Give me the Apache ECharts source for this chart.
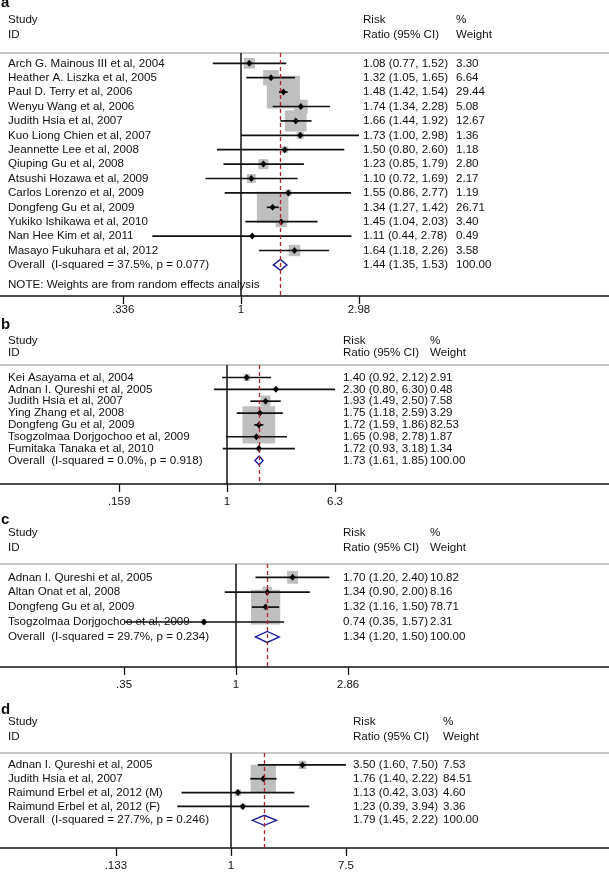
<!DOCTYPE html>
<html><head><meta charset="utf-8">
<script src="https://cdn.jsdelivr.net/npm/echarts@6/dist/echarts.min.js"></script>
<style>html,body{margin:0;padding:0;background:#fff}#c{width:609px;height:872px}</style>
</head><body><div id="c"></div>
<script>
// ---------- Panel a ----------
const aStudies = ["Arch G. Mainous III et al, 2004","Heather A. Liszka et al, 2005","Paul D. Terry et al, 2006","Wenyu Wang et al, 2006","Judith Hsia et al, 2007","Kuo Liong Chien et al, 2007","Jeannette Lee et al, 2008","Qiuping Gu et al, 2008","Atsushi Hozawa et al, 2009","Carlos Lorenzo et al, 2009","Dongfeng Gu et al, 2009","Yukiko Ishikawa et al, 2010","Nan Hee Kim et al, 2011","Masayo Fukuhara et al, 2012"];
const aRR = [1.08,1.32,1.48,1.74,1.66,1.73,1.50,1.23,1.10,1.55,1.34,1.45,1.11,1.64];
const aLo = [0.77,1.05,1.42,1.34,1.44,1.00,0.80,0.85,0.72,0.86,1.27,1.04,0.44,1.18];
const aHi = [1.52,1.65,1.54,2.28,1.92,2.98,2.60,1.79,1.69,2.77,1.42,2.03,2.78,2.26];
const aW  = [3.30,6.64,29.44,5.08,12.67,1.36,1.18,2.80,2.17,1.19,26.71,3.40,0.49,3.58];
const aOverall = [1.44,1.35,1.53];
const aOverallLabel = "Overall  (I-squared = 37.5%, p = 0.077)";
const aNote = "NOTE: Weights are from random effects analysis";
const aTicks = [0.336,1,2.98];
const aTickLabels = [".336","1","2.98"];

// ---------- Panel b ----------
const bStudies = ["Kei Asayama et al, 2004","Adnan I. Qureshi et al, 2005","Judith Hsia et al, 2007","Ying Zhang et al, 2008","Dongfeng Gu et al, 2009","Tsogzolmaa Dorjgochoo et al, 2009","Fumitaka Tanaka et al, 2010"];
const bRR = [1.40,2.30,1.93,1.75,1.72,1.65,1.72];
const bLo = [0.92,0.80,1.49,1.18,1.59,0.98,0.93];
const bHi = [2.12,6.30,2.50,2.59,1.86,2.78,3.18];
const bW  = [2.91,0.48,7.58,3.29,82.53,1.87,1.34];
const bOverall = [1.73,1.61,1.85];
const bOverallLabel = "Overall  (I-squared = 0.0%, p = 0.918)";
const bTicks = [0.159,1,6.3];
const bTickLabels = [".159","1","6.3"];

// ---------- Panel c ----------
const cStudies = ["Adnan I. Qureshi et al, 2005","Altan Onat et al, 2008","Dongfeng Gu et al, 2009","Tsogzolmaa Dorjgochoo et al, 2009"];
const cRR = [1.70,1.34,1.32,0.74];
const cLo = [1.20,0.90,1.16,0.35];
const cHi = [2.40,2.00,1.50,1.57];
const cW  = [10.82,8.16,78.71,2.31];
const cOverall = [1.34,1.20,1.50];
const cOverallLabel = "Overall  (I-squared = 29.7%, p = 0.234)";
const cTicks = [0.35,1,2.86];
const cTickLabels = [".35","1","2.86"];

// ---------- Panel d ----------
const dStudies = ["Adnan I. Qureshi et al, 2005","Judith Hsia et al, 2007","Raimund Erbel et al, 2012 (M)","Raimund Erbel et al, 2012 (F)"];
const dRR = [3.50,1.76,1.13,1.23];
const dLo = [1.60,1.40,0.42,0.39];
const dHi = [7.50,2.22,3.03,3.94];
const dW  = [7.53,84.51,4.60,3.36];
const dOverall = [1.79,1.45,2.22];
const dOverallLabel = "Overall  (I-squared = 27.7%, p = 0.246)";
const dTicks = [0.133,1,7.5];
const dTickLabels = [".133","1","7.5"];

const headStudy = ["Study","ID"];
const headRR = ["Risk","Ratio (95% CI)"];
const headW = ["%","Weight"];
const letters = ["a","b","c","d"];

// ---------- layout (pixels) ----------
const W = 609, H = 872;
const FONT = '11.6px "Liberation Sans", Arial, sans-serif';
const LFONT = 'bold 15px "Liberation Sans", Arial, sans-serif';
const TXT = '#111';
const panels = [
  {studies:aStudies, rr:aRR, lo:aLo, hi:aHi, w:aW, ov:aOverall, ovLabel:aOverallLabel, note:aNote, ticks:aTicks, tickLabels:aTickLabels,
   L:{letterY:3, studyY:19.5, idY:35, headY:53, row0:63.3, dy:14.4, axisY:296, nullX:241, scale:108.07, nameX:8, riskX:363, wX:456, margin:8, kW:6.1, kH:6.0, dH:11, noteOff:1.4}},
  {studies:bStudies, rr:bRR, lo:bLo, hi:bHi, w:bW, ov:bOverall, ovLabel:bOverallLabel, ticks:bTicks, tickLabels:bTickLabels,
   L:{letterY:324.5, studyY:340.7, idY:352.5, headY:365, row0:377.5, dy:11.85, axisY:484, nullX:227, scale:58.68, nameX:8, riskX:343, wX:430, margin:12, kW:3.6, kH:4.1, dH:9}},
  {studies:cStudies, rr:cRR, lo:cLo, hi:cHi, w:cW, ov:cOverall, ovLabel:cOverallLabel, ticks:cTicks, tickLabels:cTickLabels,
   L:{letterY:519.5, studyY:533, idY:548, headY:564, row0:577.3, dy:14.9, axisY:667, nullX:236, scale:106.6, nameX:8, riskX:343, wX:430, margin:12, kW:3.3, kH:3.9, dH:11}},
  {studies:dStudies, rr:dRR, lo:dLo, hi:dHi, w:dW, ov:dOverall, ovLabel:dOverallLabel, ticks:dTicks, tickLabels:dTickLabels,
   L:{letterY:709.5, studyY:722, idY:737, headY:753, row0:765, dy:14, axisY:849, nullX:231, scale:57.07, nameX:8, riskX:353, wX:443, margin:12, kW:2.75, kH:3.05, dH:10}}
];

function txt(x, y, s, font) {
  return {type:'text', x:x, y:y, silent:true, z:10,
    style:{text:s, fill:TXT, font:font||FONT, align:'left', verticalAlign:'middle', textAlign:'left', textVerticalAlign:'middle'}};
}
function ci(e, l, h) { return e.toFixed(2) + ' (' + l.toFixed(2) + ', ' + h.toFixed(2) + ')'; }

const grids = [], xAxes = [], yAxes = [], series = [], graphics = [];

panels.forEach((p, i) => {
  const L = p.L;
  const n = p.studies.length;
  grids.push({left:0, right:0, top:L.headY, height:L.axisY - L.headY, containLabel:false});
  const tickLn = p.ticks.map(Math.log);
  xAxes.push({
    type:'value', gridIndex:i, position:'bottom',
    min: -L.nullX / L.scale, max: (W - L.nullX) / L.scale,
    axisLine:{show:true, onZero:false, lineStyle:{color:'#111', width:1.6}},
    axisTick:{show:true, customValues:tickLn, length:8, inside:false, lineStyle:{color:'#111', width:1.3}},
    axisLabel:{show:true, customValues:tickLn, margin:L.margin, color:TXT, fontSize:11.5, fontFamily:'"Liberation Sans", Arial, sans-serif',
      formatter: v => { let k = 0, best = 1e9; tickLn.forEach((t, j) => { if (Math.abs(t - v) < best) { best = Math.abs(t - v); k = j; } }); return p.tickLabels[k]; }},
    splitLine:{show:false}
  });
  yAxes.push({type:'value', gridIndex:i, inverse:true, show:false,
    min:(L.headY - L.row0) / L.dy, max:(L.axisY - L.row0) / L.dy});

  // boxes
  series.push({
    type:'custom', xAxisIndex:i, yAxisIndex:i, z:1, silent:true, clip:false,
    data: p.studies.map((s, j) => [Math.log(p.rr[j]), j, p.w[j]]),
    encode:{x:0, y:1},
    renderItem:(params, api) => {
      const c = api.coord([api.value(0), api.value(1)]);
      const sw = L.kW * Math.sqrt(api.value(2)), sh = L.kH * Math.sqrt(api.value(2));
      return {type:'rect', shape:{x:c[0] - sw / 2, y:c[1] - sh / 2, width:sw, height:sh}, style:{fill:'#bfbfbf'}};
    },
    markLine:{silent:true, symbol:['none','none'], label:{show:false}, animation:false,
      lineStyle:{color:'#111', width:1.5, type:'solid'}, data:[{xAxis:0}]}
  });
  // CI lines + point estimates
  series.push({
    type:'custom', xAxisIndex:i, yAxisIndex:i, z:3, silent:true, clip:false,
    data: p.studies.map((s, j) => [Math.log(p.rr[j]), j, Math.log(p.lo[j]), Math.log(p.hi[j])]),
    encode:{x:0, y:1},
    renderItem:(params, api) => {
      const y = api.value(1);
      const a = api.coord([api.value(2), y]), b = api.coord([api.value(3), y]), c = api.coord([api.value(0), y]);
      return {type:'group', children:[
        {type:'line', shape:{x1:a[0], y1:a[1], x2:b[0], y2:b[1]}, style:{stroke:'#111', lineWidth:1.7}},
        {type:'polygon', shape:{points:[[c[0]-3, c[1]], [c[0], c[1]-3.5], [c[0]+3, c[1]], [c[0], c[1]+3.5]]}, style:{fill:'#000'}}
      ]};
    }
  });
  // overall diamond + dashed line
  series.push({
    type:'custom', xAxisIndex:i, yAxisIndex:i, z:4, silent:true, clip:false,
    data: [[Math.log(p.ov[0]), n, Math.log(p.ov[1]), Math.log(p.ov[2])]],
    encode:{x:0, y:1},
    renderItem:(params, api) => {
      const y = api.value(1);
      const a = api.coord([api.value(2), y]), b = api.coord([api.value(3), y]), c = api.coord([api.value(0), y]);
      const h = L.dH / 2;
      return {type:'polygon', shape:{points:[[a[0], a[1]], [c[0], c[1]-h], [b[0], b[1]], [c[0], c[1]+h]]},
        style:{fill:'none', stroke:'#1d1d9c', lineWidth:1.4}};
    },
    markLine:{silent:true, symbol:['none','none'], label:{show:false}, animation:false,
      lineStyle:{color:'#b3262e', width:1.3, type:[4,3]}, data:[{xAxis:Math.log(p.ov[0])}]}
  });
  // row texts
  const rows = p.studies.map((s, j) => [0, j]);
  rows.push([0, n]);
  if (p.note) rows.push([0, n + L.noteOff]);
  series.push({
    type:'custom', xAxisIndex:i, yAxisIndex:i, z:5, silent:true, clip:false,
    data: rows, encode:{x:0, y:1},
    renderItem:(params, api) => {
      const k = params.dataIndex;
      const y = api.coord([0, api.value(1)])[1];
      if (k < n) return {type:'group', children:[
        txt(L.nameX, y, p.studies[k]), txt(L.riskX, y, ci(p.rr[k], p.lo[k], p.hi[k])), txt(L.wX, y, p.w[k].toFixed(2))]};
      if (k === n) return {type:'group', children:[
        txt(L.nameX, y, p.ovLabel), txt(L.riskX, y, ci(p.ov[0], p.ov[1], p.ov[2])), txt(L.wX, y, (100).toFixed(2))]};
      return txt(L.nameX, y, p.note);
    }
  });

  // headers
  graphics.push(txt(1, L.letterY, letters[i], LFONT));
  graphics.push(txt(L.nameX, L.studyY, headStudy[0]), txt(L.nameX, L.idY, headStudy[1]));
  graphics.push(txt(L.riskX, L.studyY, headRR[0]), txt(L.riskX, L.idY, headRR[1]));
  graphics.push(txt(L.wX, L.studyY, headW[0]), txt(L.wX, L.idY, headW[1]));
  graphics.push({type:'line', silent:true, z:0, shape:{x1:0, y1:L.headY, x2:W, y2:L.headY}, style:{stroke:'#c6c6c6', lineWidth:2}});
});

const chart = echarts.init(document.getElementById('c'), null, {renderer:'canvas'});
chart.setOption({
  backgroundColor:'#fff', animation:false,
  grid:grids, xAxis:xAxes, yAxis:yAxes, series:series,
  graphic:{elements:graphics}
});
</script></body></html>
